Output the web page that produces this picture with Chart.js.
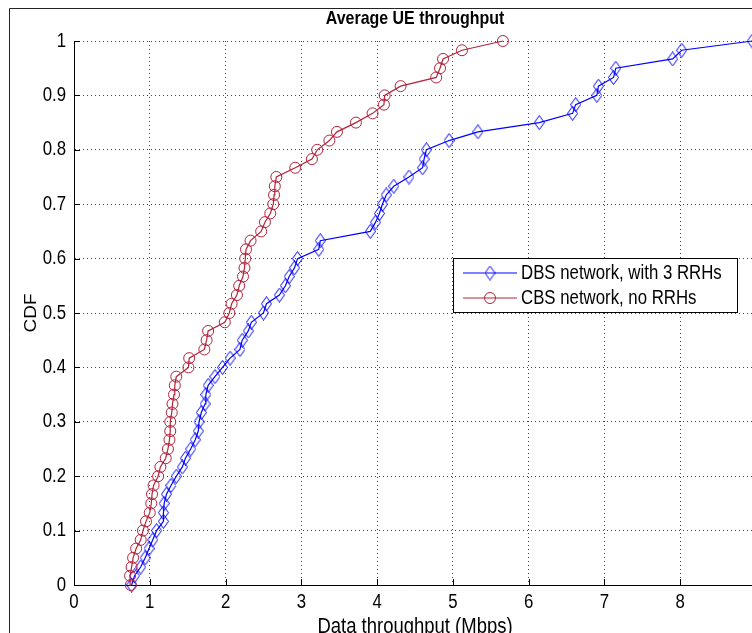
<!DOCTYPE html>
<html>
<head>
<meta charset="utf-8">
<script src="https://cdn.jsdelivr.net/npm/chart.js@4.4.0/dist/chart.umd.min.js"></script>
<style>
    html, body { margin: 0; padding: 0; background: #fff; overflow: hidden; }
    #wrap { position: absolute; left: 0; top: 0; width: 780px; height: 660px; }
</style>
</head>
<body>
<div id="wrap"><canvas id="cdf-chart" width="780" height="660"></canvas></div>
<script>
// CDF level of each sample (steps of roughly 1/60)
const cdfLevels = [
    0, 0.017, 0.033, 0.05, 0.067, 0.083, 0.1, 0.117, 0.133, 0.15,
    0.167, 0.183, 0.2, 0.217, 0.233, 0.25, 0.267, 0.283, 0.3, 0.317,
    0.333, 0.35, 0.367, 0.383, 0.4, 0.417, 0.433, 0.45, 0.467, 0.483,
    0.5, 0.517, 0.533, 0.55, 0.567, 0.583, 0.6, 0.617, 0.633, 0.65,
    0.667, 0.683, 0.7, 0.717, 0.733, 0.75, 0.767, 0.783, 0.8, 0.817,
    0.833, 0.85, 0.867, 0.883, 0.9, 0.917, 0.933, 0.95, 0.967, 0.983, 1
];

// Data throughput (Mbps) for each CDF level
const dbsThroughput = [
    0.76, 0.80, 0.88, 0.94, 0.99, 1.04, 1.09, 1.18, 1.18, 1.19,
    1.22, 1.28, 1.35, 1.43, 1.47, 1.54, 1.60, 1.64, 1.65, 1.68,
    1.73, 1.74, 1.77, 1.86, 1.96, 2.06, 2.19, 2.22, 2.30, 2.34,
    2.50, 2.54, 2.71, 2.79, 2.84, 2.91, 2.95, 3.23, 3.25, 3.91,
    3.98, 4.03, 4.07, 4.12, 4.22, 4.42, 4.60, 4.62, 4.65, 4.95,
    5.33, 6.14, 6.58, 6.62, 6.90, 6.92, 7.12, 7.15, 7.90, 8.02, 8.95
];

const cbsThroughput = [
    0.75, 0.74, 0.76, 0.78, 0.82, 0.88, 0.91, 0.95, 1.00, 1.02,
    1.03, 1.05, 1.11, 1.14, 1.21, 1.24, 1.26, 1.27, 1.27, 1.29,
    1.30, 1.32, 1.33, 1.35, 1.51, 1.52, 1.72, 1.75, 1.77, 1.99,
    2.05, 2.08, 2.15, 2.18, 2.23, 2.25, 2.26, 2.27, 2.33, 2.47,
    2.52, 2.59, 2.63, 2.64, 2.65, 2.67, 2.92, 3.14, 3.21, 3.37,
    3.47, 3.72, 3.94, 4.09, 4.10, 4.31, 4.78, 4.83, 4.87, 5.12, 5.66
];

const xTicks = [0, 1, 2, 3, 4, 5, 6, 7, 8, 9];
const yTicks = [0, 0.1, 0.2, 0.3, 0.4, 0.5, 0.6, 0.7, 0.8, 0.9, 1];
const yTickLabels = ['0', '0.1', '0.2', '0.3', '0.4', '0.5', '0.6', '0.7', '0.8', '0.9', '1'];

const seriesNames = ['DBS network, with 3 RRHs', 'CBS network, no RRHs'];
const chartTitle = 'Average UE throughput';
const xTitle = 'Data throughput (Mbps)';
const yTitle = 'CDF';

const BLUE = '#0000ff';
const RED = '#b4233c';
const FONT = "'Liberation Sans', Arial, sans-serif";
const SQUEEZE = 0.84; // the original figure text is condensed

Chart.defaults.font.family = FONT;
Chart.defaults.color = '#000';

// tall thin diamond like the matlab 'd' marker
function makeDiamond() {
    const c = document.createElement('canvas');
    c.width = 11;
    c.height = 15;
    const g = c.getContext('2d');
    g.strokeStyle = BLUE;
    g.lineWidth = 1;
    g.beginPath();
    g.moveTo(5.5, 0.5);
    g.lineTo(10.5, 7.5);
    g.lineTo(5.5, 14.5);
    g.lineTo(0.5, 7.5);
    g.closePath();
    g.stroke();
    return c;
}
const diamond = makeDiamond();

const toPoints = (xs) => xs.map((x, i) => ({ x: x, y: cdfLevels[i] }));

// condensed text helper
function narrowText(ctx, text, x, y, size, align, bold, rotate) {
    ctx.save();
    ctx.translate(x, y);
    if (rotate) {
        ctx.rotate(-Math.PI / 2);
        ctx.scale(1, SQUEEZE);
    } else {
        ctx.scale(SQUEEZE, 1);
    }
    ctx.font = (bold ? 'bold ' : '') + size + 'px ' + FONT;
    ctx.fillStyle = '#000';
    ctx.textAlign = align;
    ctx.textBaseline = 'middle';
    ctx.fillText(text, 0, 0);
    ctx.restore();
}

const figureDecor = {
    id: 'figureDecor',
    beforeDraw(chart) {
        const ctx = chart.ctx;
        ctx.save();
        ctx.fillStyle = '#fff';
        ctx.fillRect(0, 0, chart.width, chart.height);
        ctx.strokeStyle = '#222';
        ctx.lineWidth = 1;
        ctx.beginPath();
        ctx.moveTo(9.5, chart.height);
        ctx.lineTo(9.5, 8.5);
        ctx.lineTo(chart.width, 8.5);
        ctx.stroke();
        ctx.restore();
    },
    afterDraw(chart) {
        const ctx = chart.ctx;
        const area = chart.chartArea;
        const xs = chart.scales.x;
        const ys = chart.scales.y;
        const midX = (area.left + area.right) / 2;
        ctx.save();

        // inward tick marks
        ctx.strokeStyle = '#000';
        ctx.lineWidth = 1;
        ctx.beginPath();
        xTicks.forEach(v => {
            const px = Math.round(xs.getPixelForValue(v)) + 0.5;
            ctx.moveTo(px, area.bottom);
            ctx.lineTo(px, area.bottom - 6);
        });
        yTicks.forEach(v => {
            const py = Math.round(ys.getPixelForValue(v)) + 0.5;
            ctx.moveTo(area.left, py);
            ctx.lineTo(area.left + 6, py);
        });
        ctx.stroke();

        // tick labels
        xTicks.forEach(v => {
            narrowText(ctx, String(v), xs.getPixelForValue(v), area.bottom + 17, 20, 'center');
        });
        yTicks.forEach((v, i) => {
            narrowText(ctx, yTickLabels[i], area.left - 8, ys.getPixelForValue(v), 20, 'right');
        });

        // axis titles and chart title
        narrowText(ctx, xTitle, midX, 627, 22, 'center');
        narrowText(ctx, yTitle, 32, (area.top + area.bottom) / 2, 19, 'center', false, true);
        narrowText(ctx, chartTitle, midX, 19, 19, 'center', true);

        // legend
        const bx = 453.5, by = 258.5, bw = 284, bh = 54;
        ctx.fillStyle = '#fff';
        ctx.fillRect(bx, by, bw, bh);
        ctx.strokeStyle = '#000';
        ctx.lineWidth = 1;
        ctx.strokeRect(bx, by, bw, bh);

        const rows = [273, 298];
        rows.forEach((ry, i) => {
            const col = i === 0 ? BLUE : RED;
            ctx.strokeStyle = col;
            ctx.lineWidth = 1.2;
            ctx.beginPath();
            ctx.moveTo(463, ry);
            ctx.lineTo(517, ry);
            ctx.stroke();
            if (i === 0) {
                ctx.drawImage(diamond, 490 - diamond.width / 2, ry - diamond.height / 2);
            } else {
                ctx.lineWidth = 1;
                ctx.beginPath();
                ctx.arc(490, ry, 5.5, 0, Math.PI * 2);
                ctx.stroke();
            }
            narrowText(ctx, seriesNames[i], 521, ry, 20, 'left');
        });

        ctx.restore();
    }
};

const gridStyle = {
    color: '#444',
    lineWidth: 1,
    drawTicks: false
};

const ctx = document.getElementById('cdf-chart');
new Chart(ctx, {
    type: 'scatter',
    data: {
        datasets: [{
            label: seriesNames[0],
            data: toPoints(dbsThroughput),
            showLine: true,
            borderColor: BLUE,
            borderWidth: 1.2,
            pointStyle: diamond,
            pointRadius: 7,
            pointBorderColor: BLUE,
            pointBackgroundColor: 'rgba(0,0,0,0)',
            clip: false,
            order: 1
        }, {
            label: seriesNames[1],
            data: toPoints(cbsThroughput),
            showLine: true,
            borderColor: RED,
            borderWidth: 1.2,
            pointStyle: 'circle',
            pointRadius: 5.5,
            pointBorderWidth: 1,
            pointBorderColor: RED,
            pointBackgroundColor: 'rgba(0,0,0,0)',
            clip: false,
            order: 0
        }]
    },
    options: {
        responsive: false,
        animation: false,
        devicePixelRatio: 1,
        layout: { padding: { top: 41, right: 24, left: 0, bottom: 0 } },
        plugins: {
            legend: { display: false },
            tooltip: { enabled: false }
        },
        scales: {
            x: {
                type: 'linear',
                min: 0,
                max: 9,
                afterBuildTicks: s => { s.ticks = xTicks.map(v => ({ value: v })); },
                afterFit: s => { s.height = 75; },
                grid: Object.assign({}, gridStyle),
                border: { display: true, color: '#000', width: 1, dash: [1, 3] },
                ticks: { display: false }
            },
            y: {
                type: 'linear',
                min: 0,
                max: 1,
                afterBuildTicks: s => { s.ticks = yTicks.map(v => ({ value: v })); },
                afterFit: s => { s.width = 74; },
                grid: Object.assign({}, gridStyle),
                border: { display: true, color: '#000', width: 1, dash: [1, 3] },
                ticks: { display: false }
            }
        }
    },
    plugins: [figureDecor]
});
</script>
</body>
</html>
